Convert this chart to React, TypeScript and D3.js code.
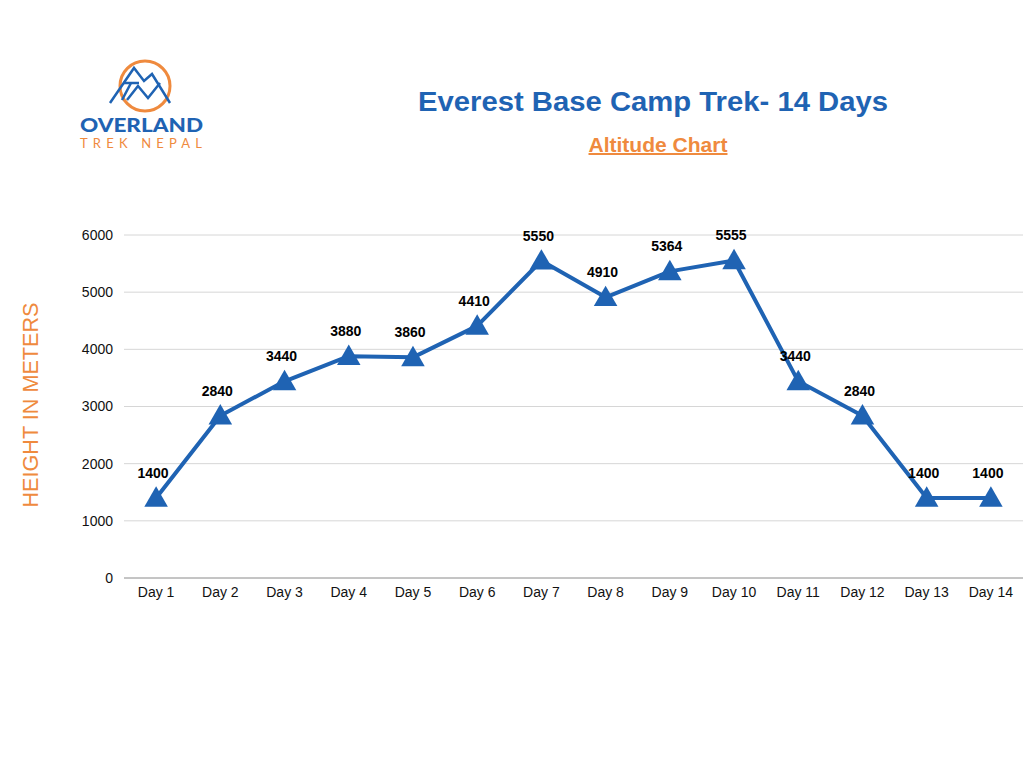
import React, { useRef, useEffect } from "react";
import * as d3 from "d3";

// chart data
const days: string[] = [
  "Day 1", "Day 2", "Day 3", "Day 4", "Day 5", "Day 6", "Day 7",
  "Day 8", "Day 9", "Day 10", "Day 11", "Day 12", "Day 13", "Day 14",
];
const altitudes: number[] = [
  1400, 2840, 3440, 3880, 3860, 4410, 5550, 4910, 5364, 5555, 3440, 2840, 1400, 1400,
];
const yTicks: number[] = [0, 1000, 2000, 3000, 4000, 5000, 6000];

const BLUE = "#1f63b3";
const ORANGE = "#ef8a3e";
const FONT = "'Liberation Sans', Arial, Helvetica, sans-serif";

export default function App() {
  const svgRef = useRef<SVGSVGElement | null>(null);

  useEffect(() => {
    const width = 1024;
    const height = 768;
    const plot = { left: 124, right: 1023, top: 235, bottom: 578 };

    const svg = d3.select(svgRef.current);
    svg.selectAll("*").remove();
    svg.attr("width", width).attr("height", height);

    svg.append("rect").attr("width", width).attr("height", height).attr("fill", "#fff");

    // ---------------------------------------------------------------------
    // logo
    // ---------------------------------------------------------------------
    const logo = svg.append("g");
    logo
      .append("circle")
      .attr("cx", 145)
      .attr("cy", 86)
      .attr("r", 25)
      .attr("fill", "none")
      .attr("stroke", ORANGE)
      .attr("stroke-width", 3);
    const mline = d3.line();
    const strokes: [number, number][][] = [
      [[110, 103], [134, 68], [144, 81], [152, 74], [170, 103]],
      [[123, 83], [139, 83]],
      [[131, 83], [122, 100]],
      [[127, 100], [138, 86], [148, 98], [160, 83]],
    ];
    strokes.forEach((s) => {
      logo
        .append("path")
        .attr("d", mline(s))
        .attr("fill", "none")
        .attr("stroke", BLUE)
        .attr("stroke-width", 2.5)
        .attr("stroke-linejoin", "miter");
    });
    logo
      .append("text")
      .attr("x", 80)
      .attr("y", 132)
      .attr("textLength", 123)
      .attr("lengthAdjust", "spacingAndGlyphs")
      .attr("fill", BLUE)
      .style("font-family", "Lato, 'Noto Sans', sans-serif")
      .style("font-weight", "900")
      .style("font-size", "19px")
      .text("OVERLAND");
    logo
      .append("text")
      .attr("x", 80)
      .attr("y", 148)
      .attr("textLength", 122)
      .attr("lengthAdjust", "spacing")
      .attr("fill", ORANGE)
      .style("font-family", "Lato, 'Noto Sans', sans-serif")
      .style("font-size", "13px")
      .text("TREK NEPAL");

    // ---------------------------------------------------------------------
    // titles
    // ---------------------------------------------------------------------
    svg
      .append("text")
      .attr("x", 653)
      .attr("y", 111)
      .attr("text-anchor", "middle")
      .attr("textLength", 470)
      .attr("lengthAdjust", "spacingAndGlyphs")
      .attr("fill", BLUE)
      .style("font-family", FONT)
      .style("font-weight", "bold")
      .style("font-size", "28px")
      .text("Everest Base Camp Trek- 14 Days");
    svg
      .append("text")
      .attr("x", 658)
      .attr("y", 152)
      .attr("text-anchor", "middle")
      .attr("textLength", 139)
      .attr("lengthAdjust", "spacingAndGlyphs")
      .attr("fill", ORANGE)
      .style("font-family", FONT)
      .style("font-weight", "bold")
      .style("font-size", "20px")
      .style("text-decoration", "underline")
      .text("Altitude Chart");

    // ---------------------------------------------------------------------
    // scales
    // ---------------------------------------------------------------------
    const x = d3.scalePoint<string>().domain(days).range([plot.left, plot.right]).padding(0.5);
    const y = d3.scaleLinear().domain([0, 6000]).range([plot.bottom, plot.top]);

    // grid lines
    svg
      .append("g")
      .selectAll("line")
      .data(yTicks)
      .join("line")
      .attr("x1", plot.left)
      .attr("x2", plot.right)
      .attr("y1", (d) => y(d))
      .attr("y2", (d) => y(d))
      .attr("stroke", (d) => (d === 0 ? "#8a8a8a" : "#d6d6d6"))
      .attr("stroke-width", 1);

    // y tick labels
    svg
      .append("g")
      .selectAll("text")
      .data(yTicks)
      .join("text")
      .attr("x", 113)
      .attr("y", (d) => y(d))
      .attr("dy", "0.35em")
      .attr("text-anchor", "end")
      .attr("fill", "#111")
      .style("font-family", FONT)
      .style("font-size", "14px")
      .text((d) => String(d));

    // x tick labels
    svg
      .append("g")
      .selectAll("text")
      .data(days)
      .join("text")
      .attr("x", (d) => x(d) as number)
      .attr("y", 597)
      .attr("text-anchor", "middle")
      .attr("fill", "#111")
      .style("font-family", FONT)
      .style("font-size", "14px")
      .text((d) => d);

    // y axis title
    svg
      .append("text")
      .attr("transform", `translate(38, 405) rotate(-90)`)
      .attr("text-anchor", "middle")
      .attr("textLength", 205)
      .attr("lengthAdjust", "spacingAndGlyphs")
      .attr("fill", ORANGE)
      .style("font-family", FONT)
      .style("font-size", "22px")
      .text("HEIGHT IN METERS");

    // ---------------------------------------------------------------------
    // line + markers + labels
    // ---------------------------------------------------------------------
    const line = d3
      .line<number>()
      .x((_, i) => x(days[i]) as number)
      .y((d) => y(d));

    svg
      .append("path")
      .datum(altitudes)
      .attr("d", line)
      .attr("fill", "none")
      .attr("stroke", BLUE)
      .attr("stroke-width", 4)
      .attr("stroke-linejoin", "round");

    const tri = d3.symbol().type(d3.symbolTriangle).size(240);
    svg
      .append("g")
      .selectAll("path")
      .data(altitudes)
      .join("path")
      .attr("d", tri)
      .attr("transform", (d, i) => `translate(${x(days[i])},${y(d) + 2})`)
      .attr("fill", BLUE);

    svg
      .append("g")
      .selectAll("text")
      .data(altitudes)
      .join("text")
      .attr("x", (_, i) => (x(days[i]) as number) - 3)
      .attr("y", (d) => y(d) - 20)
      .attr("text-anchor", "middle")
      .attr("fill", "#000")
      .style("font-family", FONT)
      .style("font-weight", "bold")
      .style("font-size", "14px")
      .text((d) => String(d));
  }, []);

  return (
    <div style={{ position: "absolute", left: 0, top: 0 }}>
      <svg ref={svgRef} style={{ display: "block" }} />
    </div>
  );
}
